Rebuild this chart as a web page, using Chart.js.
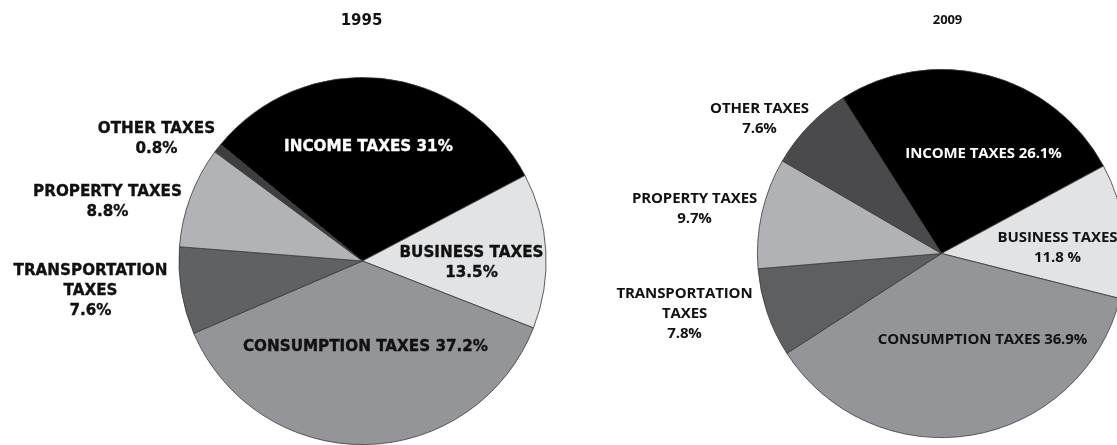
<!DOCTYPE html>
<html>
<head>
<meta charset="utf-8">
<script src="https://cdn.jsdelivr.net/npm/chart.js@4.4.1/dist/chart.umd.min.js"></script>
<style>
  html, body { margin: 0; padding: 0; background: #fff; overflow: hidden; }
  #wrap { position: relative; width: 1117px; height: 445px; overflow: hidden; }
  canvas { position: absolute; top: 0; }
  #pie1995 { left: 0; }
  #pie2009 { left: 560px; }
</style>
</head>
<body>
<div id="wrap">
  <canvas id="pie1995" width="560" height="445"></canvas>
  <canvas id="pie2009" width="600" height="445"></canvas>
</div>
<script>
// tax categories, in clockwise order starting with income taxes
var categories = ['INCOME TAXES', 'BUSINESS TAXES', 'CONSUMPTION TAXES', 'TRANSPORTATION TAXES', 'PROPERTY TAXES', 'OTHER TAXES'];
var shares1995 = [31, 13.5, 37.2, 7.6, 8.8, 0.8];
var shares2009 = [26.1, 11.8, 36.9, 7.8, 9.7, 7.6];

// label text per slice, {v} is replaced by the share
var lines1995 = [
  ['INCOME TAXES {v}%'],
  ['BUSINESS TAXES', '{v}%'],
  ['CONSUMPTION TAXES {v}%'],
  ['TRANSPORTATION', 'TAXES', '{v}%'],
  ['PROPERTY TAXES', '{v}%'],
  ['OTHER TAXES', '{v}%']
];
var lines2009 = [
  ['INCOME TAXES {v}%'],
  ['BUSINESS TAXES', '{v} %'],
  ['CONSUMPTION TAXES {v}%'],
  ['TRANSPORTATION', 'TAXES', '{v}%'],
  ['PROPERTY TAXES', '{v}%'],
  ['OTHER TAXES', '{v}%']
];

// where each label sits, relative to the pie centre
var pos1995 = [[6, -114], [109, -8], [3, 86], [-272, 10], [-255, -69], [-206, -132]];
var pos2009 = [[42, -100], [116, -16], [41, 86], [-257, 40], [-247, -55], [-182, -145]];

var textColors = ['#fff', '#111', '#111', '#111', '#111', '#111'];

var sliceLabels = {
  id: 'sliceLabels',
  afterDraw: function(chart) {
    var o = chart.options.plugins.sliceLabels;
    var arc = chart.getDatasetMeta(0).data[0];
    var vals = chart.data.datasets[0].data;
    var ctx = chart.ctx;
    ctx.save();
    ctx.textAlign = 'center';
    ctx.textBaseline = 'middle';
    ctx.letterSpacing = o.spacing;
    ctx.lineWidth = o.stroke;
    // year heading above the pie
    ctx.fillStyle = '#111';
    ctx.font = o.titleFont;
    ctx.fillText(o.title, arc.x + o.titleDx, o.titleY);
    ctx.font = o.font;
    o.lines.forEach(function(lines, i) {
      var p = o.pos[i];
      ctx.fillStyle = textColors[i];
      ctx.strokeStyle = textColors[i];
      lines.forEach(function(t, k) {
        var s = t.replace('{v}', vals[i]);
        var y = arc.y + p[1] + k * o.lineHeight;
        ctx.fillText(s, arc.x + p[0], y);
        if (o.stroke > 0) ctx.strokeText(s, arc.x + p[0], y);
      });
    });
    ctx.restore();
  }
};

function makePie(id, values, colors, rotation, padding, labelOpts) {
  return new Chart(document.getElementById(id), {
    type: 'pie',
    data: {
      labels: categories,
      datasets: [{
        data: values,
        backgroundColor: colors,
        borderColor: '#3a3a3a',
        borderWidth: 0.8
      }]
    },
    options: {
      responsive: false,
      animation: false,
      rotation: rotation,
      layout: { padding: padding },
      plugins: {
        legend: { display: false },
        tooltip: { enabled: false },
        sliceLabels: labelOpts
      }
    },
    plugins: [sliceLabels]
  });
}

makePie('pie1995', shares1995,
  ['#000000', '#e2e3e5', '#939598', '#606163', '#b1b3b6', '#3e3e40'],
  -50.6,
  { left: 178, right: 13, top: 77, bottom: 0 },
  {
    title: '1995', titleDx: -1, titleY: 21,
    titleFont: 'bold 15px "DejaVu Sans"',
    font: 'bold 15.2px "DejaVu Sans"', spacing: '0px', stroke: 0.35,
    lineHeight: 20, lines: lines1995, pos: pos1995
  });

makePie('pie2009', shares2009,
  ['#000000', '#e2e3e5', '#939598', '#5e5f61', '#b0b2b5', '#4a4a4c'],
  -32.4,
  { left: 197, right: 34, top: 69, bottom: 7 },
  {
    title: '2009', titleDx: 6, titleY: 20,
    titleFont: 'bold 13px "Open Sans"',
    font: 'bold 15px "Open Sans"', spacing: '-0.1px', stroke: 0,
    lineHeight: 20, lines: lines2009, pos: pos2009
  });
</script>
</body>
</html>
